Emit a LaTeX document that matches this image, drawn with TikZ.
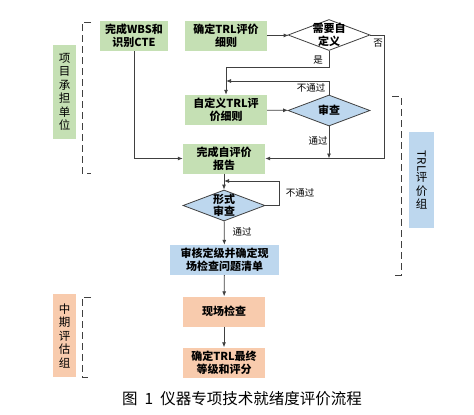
\documentclass[tikz,border=0pt]{standalone}
\usepackage{fontspec}
\setmainfont{Noto Sans CJK SC}
\usetikzlibrary{shapes.geometric,arrows.meta}

\definecolor{boxgreen}{HTML}{C5E0B4}
\definecolor{boxblue}{HTML}{BDD7EE}
\definecolor{boxorange}{HTML}{F8CBAD}
\definecolor{linegray}{HTML}{404040}

\tikzstyle{box} = [rectangle,minimum width=82pt,minimum height=30pt,inner sep=0pt,align=center,font=\bfseries\fontsize{11}{13}\selectfont]
\tikzstyle{greenbox} = [box,fill=boxgreen]
\tikzstyle{bluebox} = [box,fill=boxblue]
\tikzstyle{orangebox} = [box,fill=boxorange]
\tikzstyle{decision} = [diamond,draw=linegray,line width=0.8pt,aspect=2.6,minimum width=82pt,minimum height=31pt,inner sep=-4pt,align=center,font=\bfseries\fontsize{11}{12.5}\selectfont]
\tikzstyle{group} = [rectangle,minimum width=23pt,inner sep=0pt,align=center,font=\fontsize{11.5}{13.5}\selectfont]
\tikzstyle{note} = [inner sep=0pt,font=\fontsize{9.5}{11}\selectfont]
\tikzstyle{flow} = [draw=linegray,line width=0.8pt,-{Latex[length=5pt,width=4pt]}]
\tikzstyle{bracket} = [draw=linegray,line width=1pt,dash pattern=on 7pt off 4pt]

\begin{document}
\begin{tikzpicture}[x=1pt,y=-1pt]
	\useasboundingbox (0,0) rectangle (474,415);

	\node[greenbox,minimum width=68pt] (n1) at (134,36) {完成WBS和\\识别CTE};
	\node[greenbox] (n2) at (226,36) {确定TRL评价\\细则};
	\node[decision] (n3) at (329,35) {需要自\\定义};
	\node[greenbox] (n4) at (226,110) {自定义TRL评\\价细则};
	\node[decision,fill=boxblue] (n5) at (329,110.5) {审查};
	\node[greenbox] (n6) at (224,158.5) {完成自评价\\报告};
	\node[decision,fill=boxblue] (n7) at (224,205.5) {形式\\审查};
	\node[bluebox,minimum width=109pt] (n8) at (224.5,260) {审核定级并确定现\\场检查问题清单};
	\node[orangebox] (n9) at (224,311.5) {现场检查};
	\node[orangebox] (n10) at (224,362.5) {确定TRL最终\\等级和评分};

	\node[group,fill=boxgreen,minimum height=94pt] (g1) at (64.5,92) {项\\目\\承\\担\\单\\位};
	\node[group,fill=boxorange,minimum height=83pt] (g2) at (64.5,335.5) {中\\期\\评\\估\\组};
	\node[group,fill=boxblue,minimum width=25pt,minimum height=96pt] (g3) at (421.5,180) {\rotatebox{-90}{TRL}\\评\\价\\组};

	\coordinate (c1) at (384,35);
	\coordinate (c2) at (226,81);
	\coordinate (c3) at (329,158.5);
	\coordinate (c4) at (224,181);

	\draw[flow] (n2) -- (n3);
	\draw[flow] (n3.south) -- ++(0,16) -| (n4.north);
	\draw[flow] (n3.east) -- (c1) |- (n6.east);
	\draw[flow] (n4) -- (n5);
	\draw[flow] (n5.north) |- (c2);
	\draw[flow] (n5.south) -- (c3);
	\draw[flow] (n1.south) |- (n6.west);
	\draw[flow] (n6) -- (n7);
	\draw[flow] (n7.east) -- ++(14,0) |- (c4);
	\draw[flow] (n7) -- (n8);
	\draw[flow] (n8) -- (n9);
	\draw[flow] (n9) -- (n10);

	\node[note] (t1) at (318,60) {是};
	\node[note] (t2) at (378,43) {否};
	\node[note] (t3) at (311,88) {不通过};
	\node[note] (t4) at (318,141) {通过};
	\node[note] (t5) at (300,193) {不通过};
	\node[note] (t6) at (242,232) {通过};

	\draw[bracket] (91,22) -- (82,22) -- (82,173) -- (91,173);
	\draw[bracket] (91,297) -- (82,297) -- (82,377) -- (91,377);
	\draw[bracket] (392,96) -- (401,96) -- (401,275) -- (392,275);

	\node[font=\fontsize{15.5}{18}\selectfont] (cap) at (242,399) {图\hspace{0.45em}1\hspace{0.45em}仪器专项技术就绪度评价流程};
\end{tikzpicture}
\end{document}
